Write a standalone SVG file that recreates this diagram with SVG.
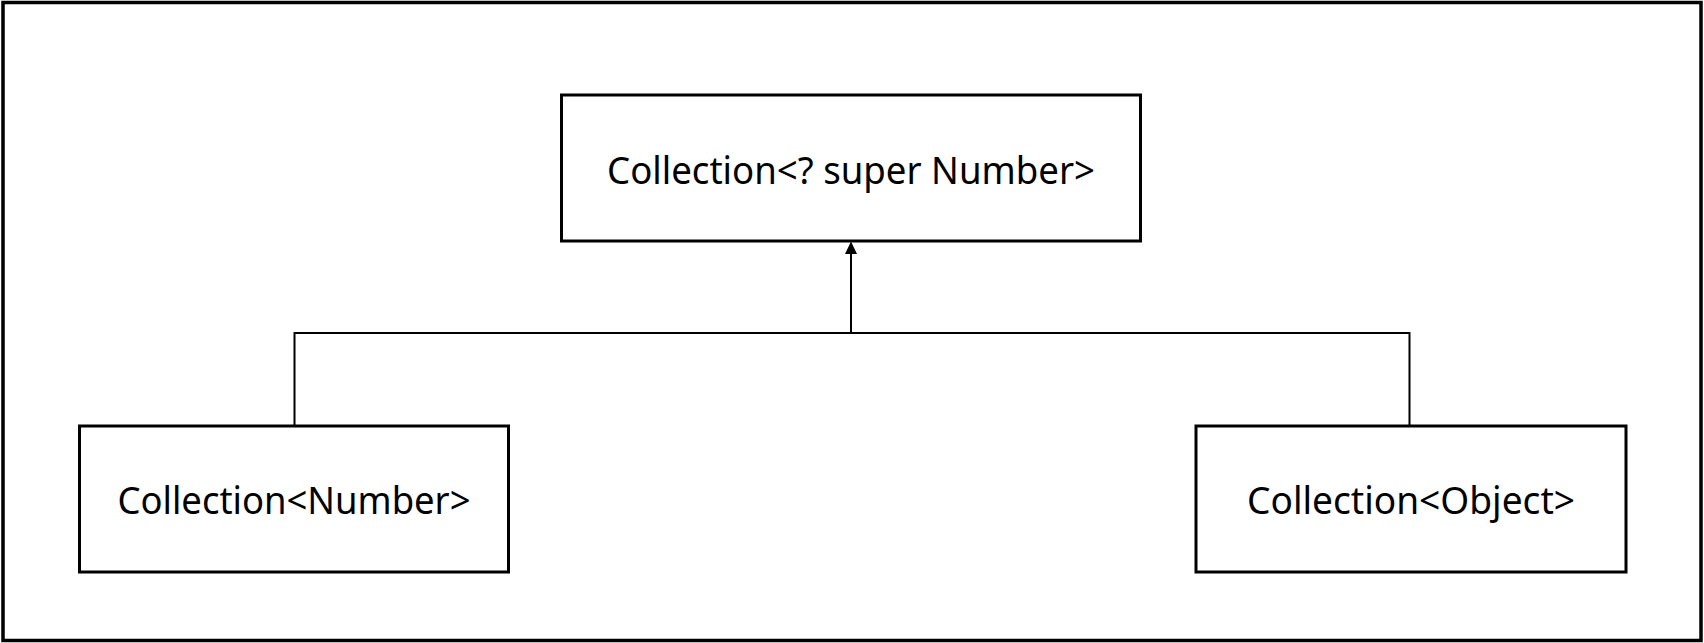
<svg xmlns="http://www.w3.org/2000/svg" width="1704" height="643" viewBox="0 0 1704 643">
  <style>
    .box { fill: #ffffff; stroke: #000000; stroke-width: 3; }
    .lbl { font-family: "Noto Sans", "Open Sans", sans-serif; font-size: 39px; fill: #000000; text-anchor: middle; }
    .conn { fill: none; stroke: #000000; stroke-width: 2; }
  </style>
  <rect x="0" y="0" width="1704" height="643" fill="#ffffff"/>
  <rect x="3" y="2.5" width="1698" height="638" fill="none" stroke="#000000" stroke-width="3.5"/>
  <g id="connectors">
    <polyline class="conn" points="294.5,426 294.5,333 1409.5,333 1409.5,426"/>
    <line class="conn" x1="851" y1="333" x2="851" y2="254"/>
    <path d="M851,241.5 L857,254 L845,254 Z" fill="#000000"/>
  </g>
  <g id="node-super">
    <rect class="box" x="561.5" y="95" width="579" height="146"/>
    <text class="lbl" x="851" y="184" textLength="488" lengthAdjust="spacingAndGlyphs">Collection&lt;? super Number&gt;</text>
  </g>
  <g id="node-number">
    <rect class="box" x="79.5" y="426" width="429" height="146"/>
    <text class="lbl" x="294" y="514" textLength="353" lengthAdjust="spacingAndGlyphs">Collection&lt;Number&gt;</text>
  </g>
  <g id="node-object">
    <rect class="box" x="1196" y="426" width="430" height="146"/>
    <text class="lbl" x="1411" y="514" textLength="328" lengthAdjust="spacingAndGlyphs">Collection&lt;Object&gt;</text>
  </g>
</svg>
